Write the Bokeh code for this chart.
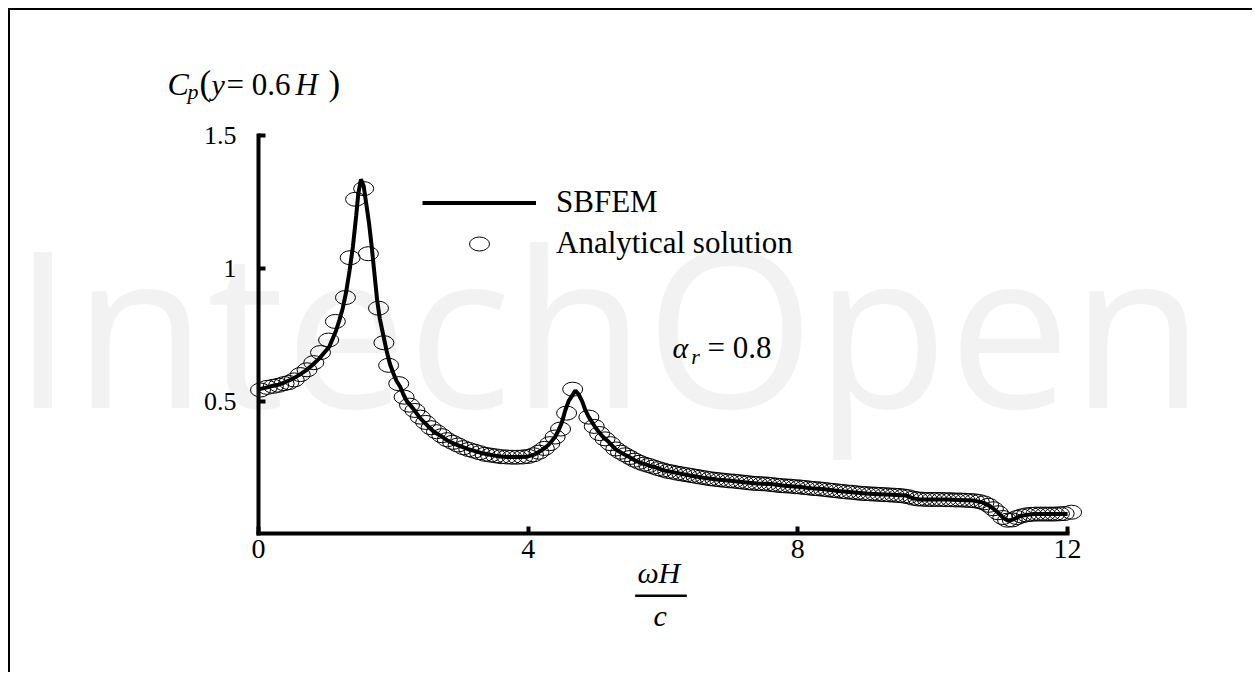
from bokeh.plotting import figure
from bokeh.models import Label, Legend, LegendItem, FixedTicker, Range1d
from bokeh.embed import file_html
from bokeh.resources import INLINE

# ---------------- data ----------------
sbfem_x = [0.00, 0.10, 0.20, 0.30, 0.40, 0.50, 0.60, 0.70, 0.80, 0.90,
           1.00, 1.05, 1.10, 1.15, 1.20, 1.25, 1.30, 1.35, 1.40, 1.45,
           1.48, 1.52, 1.56, 1.60, 1.64, 1.68, 1.72, 1.76, 1.80, 1.85,
           1.90, 1.95, 2.00, 2.05, 2.10, 2.15, 2.20, 2.30, 2.40, 2.50,
           2.60, 2.70, 2.80, 2.90, 3.00, 3.10, 3.20, 3.30, 3.40, 3.50,
           3.60, 3.70, 3.80, 3.90, 4.00, 4.10, 4.20, 4.30, 4.40, 4.45,
           4.50, 4.55, 4.60, 4.65, 4.70, 4.75, 4.80, 4.85, 4.90, 5.00,
           5.10, 5.20, 5.30, 5.40, 5.50, 5.60, 5.70, 5.80, 5.90, 6.00,
           6.20, 6.40, 6.60, 6.80, 7.00, 7.20, 7.40, 7.60, 7.80, 8.00,
           8.20, 8.40, 8.60, 8.80, 9.00, 9.20, 9.40, 9.60, 9.70, 9.80,
           10.00, 10.20, 10.40, 10.60, 10.75, 10.85, 10.95, 11.05, 11.12, 11.20,
           11.30, 11.40, 11.50, 11.70, 11.90, 12.00]
sbfem_y = [0.545, 0.550, 0.557, 0.562, 0.572, 0.583, 0.598, 0.615, 0.636, 0.660,
           0.690, 0.705, 0.735, 0.765, 0.805, 0.850, 0.910, 0.990, 1.080, 1.200,
           1.280, 1.335, 1.310, 1.240, 1.170, 1.080, 0.980, 0.880, 0.810, 0.750,
           0.690, 0.640, 0.605, 0.575, 0.555, 0.525, 0.500, 0.470, 0.435, 0.410,
           0.385, 0.370, 0.352, 0.340, 0.330, 0.320, 0.313, 0.305, 0.300, 0.295,
           0.292, 0.290, 0.290, 0.290, 0.292, 0.300, 0.315, 0.335, 0.365, 0.390,
           0.420, 0.465, 0.500, 0.520, 0.540, 0.525, 0.500, 0.465, 0.440, 0.400,
           0.368, 0.345, 0.318, 0.303, 0.290, 0.275, 0.265, 0.257, 0.250, 0.240,
           0.230, 0.220, 0.212, 0.205, 0.200, 0.195, 0.190, 0.188, 0.182, 0.178,
           0.172, 0.168, 0.162, 0.157, 0.152, 0.150, 0.148, 0.145, 0.135, 0.130,
           0.130, 0.130, 0.128, 0.126, 0.118, 0.105, 0.085, 0.060, 0.050, 0.055,
           0.068, 0.072, 0.075, 0.075, 0.075, 0.075]

analytical_x = [0.03, 0.13, 0.22, 0.30, 0.38, 0.45, 0.53, 0.62, 0.72, 0.82,
                0.92, 1.04, 1.14, 1.29, 1.36, 1.44, 1.56, 1.63, 1.78, 1.86,
                1.93, 2.08, 2.16, 2.24, 2.32, 2.40, 2.48, 2.56, 2.64, 2.72,
                2.80, 2.88, 2.96, 3.04, 3.12, 3.20, 3.28, 3.36, 3.44, 3.52,
                3.60, 3.68, 3.76, 3.84, 3.92, 4.00, 4.08, 4.16, 4.24, 4.32,
                4.40, 4.48, 4.57, 4.66, 4.90, 4.98, 5.06, 5.14, 5.22, 5.30,
                5.37, 5.44, 5.51, 5.58, 5.65, 5.72, 5.79, 5.86, 5.93, 6.00,
                6.07, 6.14, 6.21, 6.28, 6.35, 6.42, 6.49, 6.56, 6.63, 6.70,
                6.77, 6.84, 6.91, 6.98, 7.05, 7.12, 7.19, 7.26, 7.33, 7.40,
                7.47, 7.54, 7.61, 7.68, 7.75, 7.82, 7.89, 7.96, 8.03, 8.10,
                8.17, 8.24, 8.31, 8.38, 8.45, 8.52, 8.59, 8.66, 8.73, 8.80,
                8.87, 8.94, 9.01, 9.08, 9.15, 9.22, 9.29, 9.36, 9.43, 9.50,
                9.57, 9.64, 9.71, 9.78, 9.85, 9.92, 9.99, 10.06, 10.13, 10.20,
                10.27, 10.34, 10.41, 10.48, 10.55, 10.62, 10.69, 10.76, 10.83, 10.90,
                10.97, 11.04, 11.11, 11.18, 11.25, 11.32, 11.39, 11.46, 11.53, 11.60,
                11.67, 11.74, 11.81, 11.88, 11.95, 12.06]
analytical_y = [0.542, 0.552, 0.556, 0.560, 0.566, 0.570, 0.580, 0.600, 0.618, 0.645,
                0.683, 0.730, 0.800, 0.890, 1.040, 1.260, 1.300, 1.055, 0.850, 0.720,
                0.635, 0.566, 0.515, 0.485, 0.465, 0.440, 0.420, 0.400, 0.385, 0.370,
                0.355, 0.345, 0.335, 0.325, 0.318, 0.312, 0.306, 0.300, 0.297, 0.294,
                0.291, 0.290, 0.289, 0.289, 0.290, 0.292, 0.298, 0.308, 0.322, 0.340,
                0.365, 0.395, 0.455, 0.545, 0.440, 0.405, 0.378, 0.358, 0.340, 0.320,
                0.308, 0.298, 0.288, 0.278, 0.270, 0.263, 0.258, 0.252, 0.246, 0.241,
                0.236, 0.233, 0.229, 0.226, 0.223, 0.220, 0.217, 0.214, 0.211, 0.208,
                0.206, 0.204, 0.202, 0.200, 0.199, 0.197, 0.195, 0.193, 0.191, 0.190,
                0.189, 0.188, 0.186, 0.184, 0.182, 0.181, 0.180, 0.178, 0.177, 0.175,
                0.173, 0.171, 0.170, 0.168, 0.166, 0.164, 0.162, 0.160, 0.158, 0.157,
                0.155, 0.153, 0.152, 0.151, 0.150, 0.149, 0.148, 0.147, 0.146, 0.145,
                0.143, 0.140, 0.135, 0.132, 0.131, 0.130, 0.130, 0.130, 0.130, 0.129,
                0.129, 0.128, 0.128, 0.127, 0.126, 0.125, 0.122, 0.117, 0.108, 0.095,
                0.080, 0.062, 0.052, 0.053, 0.062, 0.068, 0.072, 0.074, 0.075, 0.075,
                0.075, 0.075, 0.075, 0.076, 0.077, 0.082]

x_ticks = [0, 4, 8, 12]
y_ticks = [0.5, 1, 1.5]

FONT = "Liberation Serif"

# ---------------- figure: the frame fills the canvas, axes sit at fixed locations ----------------
p = figure(width=1244, height=664, output_backend="svg", toolbar_location=None,
           x_range=Range1d(-3.678, 14.773), y_range=Range1d(-0.5289, 1.9705),
           min_border=0, min_border_left=0, min_border_right=0,
           min_border_top=0, min_border_bottom=0)
p.styles = {"margin-left": "8px", "margin-top": "8px",
            "border-left": "2px solid black", "border-top": "2px solid black"}
p.grid.visible = False
p.outline_line_color = None

for ax in (p.xaxis, p.yaxis):
    ax.fixed_location = 0
    ax.axis_line_width = 4
    ax.axis_line_color = "black"
    ax.axis_line_cap = "square"
    ax.major_tick_in = 7
    ax.major_tick_out = 0
    ax.major_tick_line_width = 4
    ax.major_tick_line_color = "black"
    ax.minor_tick_line_color = None
    ax.major_label_text_font = FONT
    ax.major_label_text_color = "black"

p.xaxis.bounds = (0, 12)
p.yaxis.bounds = (0, 1.5)
p.xaxis.ticker = FixedTicker(ticks=x_ticks)
p.yaxis.ticker = FixedTicker(ticks=y_ticks)
p.xaxis.major_label_text_font_size = "28px"
p.yaxis.major_label_text_font_size = "26px"
p.xaxis.major_label_standoff = 6
p.yaxis.major_label_standoff = 22

# faint publisher watermark
p.add_layout(Label(x=-3.649, y=0.2315, text="IntechOpen", text_font="Open Sans",
                   text_font_size="218px", text_color="#d0d0d0", text_alpha=0.28,
                   text_baseline="bottom", level="underlay"))

line_r = p.line(sbfem_x, sbfem_y, line_width=4, line_color="black")
ell_r = p.ellipse(x=analytical_x, y=analytical_y, width=20, height=14,
                  width_units="screen", height_units="screen",
                  fill_color=None, line_color="black", line_width=1)

legend = Legend(items=[LegendItem(label="SBFEM", renderers=[line_r]),
                       LegendItem(label="Analytical solution", renderers=[ell_r])],
                location=(412, 413), glyph_width=114, glyph_height=25,
                label_height=35, spacing=5, padding=0, margin=0,
                label_standoff=20, border_line_color=None,
                background_fill_alpha=0, label_text_font=FONT,
                label_text_font_size="31px", label_text_color="black")
p.add_layout(legend)

def lab(x, y, t, size, italic=False):
    p.add_layout(Label(x=x, y=y, text=t, text_font=FONT, text_font_size=size,
                       text_font_style="italic" if italic else "normal",
                       text_color="black", text_baseline="alphabetic",
                       text_align="left"))

# y-axis title  C_p(y = 0.6H)
lab(-1.35, 1.6938, "C", "32px", True)
lab(-1.053, 1.6656, "p", "22px", True)
lab(-0.875, 1.6942, "(", "35px")
lab(-0.697, 1.6912, "y", "30px", True)
lab(-0.475, 1.6912, "= 0.6", "31px")
lab(0.549, 1.6912, "H", "31px", True)
lab(1.038, 1.6942, ")", "35px")

# alpha_r = 0.8
lab(6.14, 0.7013, "α", "30px", True)
lab(6.42, 0.6681, "r", "22px", True)
lab(6.66, 0.7028, "= 0.8", "31px")

# x-axis title  omega H / c
lab(5.62, -0.1457, "ωH", "30px", True)
lab(5.592, -0.2164, "—", "51px")
lab(5.86, -0.3075, "c", "30px", True)

open("out.html", "w").write(file_html(p, INLINE))
